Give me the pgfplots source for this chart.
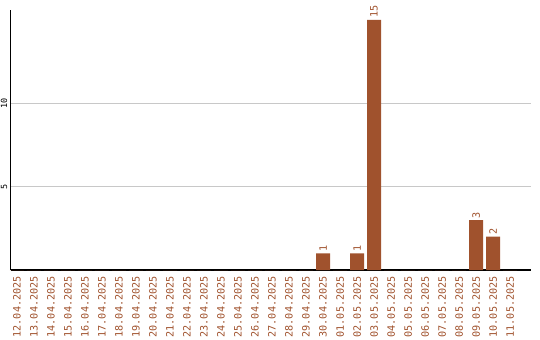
\documentclass[border=0pt]{standalone}
\usepackage{pgfplots}
\pgfplotsset{compat=1.18}
\usepackage{fontspec}
\setmainfont{DejaVu Sans}
\setmonofont{DejaVu Sans Mono}
\definecolor{barc}{HTML}{A0522D}
\definecolor{gridc}{HTML}{C8C8C8}
\begin{document}
\begin{tikzpicture}
\useasboundingbox (-10.5bp,-70bp) rectangle (529.5bp,270bp);
\begin{axis}[
  at={(0,0)}, anchor=south west,
  scale only axis, width=520bp, height=260bp,
  xmin=-0.38, xmax=30.2, ymin=0, ymax=15.6,
  axis x line*=bottom, axis y line*=left,
  axis line style={-, line width=1.3bp, black},
  xtick={0,...,29},
  xticklabels={12.04.2025,13.04.2025,14.04.2025,15.04.2025,16.04.2025,17.04.2025,18.04.2025,19.04.2025,20.04.2025,21.04.2025,22.04.2025,23.04.2025,24.04.2025,25.04.2025,26.04.2025,27.04.2025,28.04.2025,29.04.2025,30.04.2025,01.05.2025,02.05.2025,03.05.2025,04.05.2025,05.05.2025,06.05.2025,07.05.2025,08.05.2025,09.05.2025,10.05.2025,11.05.2025},
  ytick={5,10},
  ymajorgrids, grid style={gridc, line width=1bp},
  major tick length=0pt,
  xticklabel style={rotate=90, anchor=east, inner sep=0pt, font=\fontsize{10.2}{11}\selectfont\ttfamily, text=barc},
  xticklabel shift=6bp,
  yticklabel style={rotate=90, anchor=south, inner sep=0pt, font=\fontsize{8.5}{9}\selectfont\ttfamily, text=black},
  yticklabel shift=3bp,
  /pgf/number format/assume math mode=true,
  ybar, bar width=14bp,
  nodes near coords={\pgfmathfloatifflags{\pgfplotspointmeta}{0}{}{\pgfmathprintnumber{\pgfplotspointmeta}}},
  every node near coord/.append style={rotate=90, anchor=west, inner sep=0pt, outer sep=2bp, font=\fontsize{10.2}{11}\selectfont\ttfamily, text=barc},
  clip=false,
]
\addplot[fill=barc, draw=none] coordinates {
(0,0) (1,0) (2,0) (3,0) (4,0) (5,0) (6,0) (7,0) (8,0) (9,0)
(10,0) (11,0) (12,0) (13,0) (14,0) (15,0) (16,0) (17,0) (18,1) (19,0)
(20,1) (21,15) (22,0) (23,0) (24,0) (25,0) (26,0) (27,3) (28,2) (29,0)
};
\end{axis}
\end{tikzpicture}
\end{document}
